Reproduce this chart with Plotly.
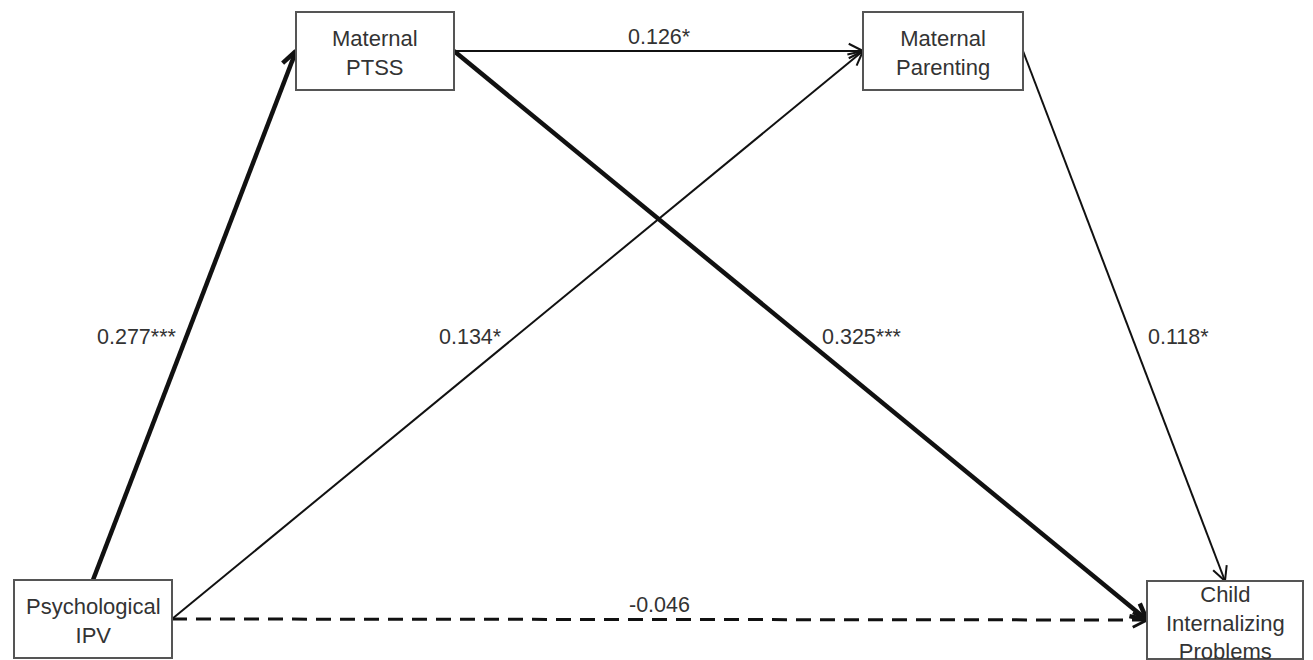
import math
import plotly.graph_objects as go

# ---- data ----
node_ids = ["IPV", "PTSS", "PAR", "CHILD"]
node_labels = ["Psychological<br>IPV", "Maternal<br>PTSS", "Maternal<br>Parenting",
               "Child<br>Internalizing<br>Problems"]
edge_from = ["IPV", "IPV", "IPV", "PTSS", "PTSS", "PAR"]
edge_to = ["PTSS", "PAR", "CHILD", "PAR", "CHILD", "CHILD"]
edge_coef = ["0.277***", "0.134*", "-0.046", "0.126*", "0.325***", "0.118*"]
edge_sig = [True, False, False, False, True, False]   # thick = p<.001
edge_dashed = [False, False, True, False, False, False]

# ---- layout (pixel-like coordinate system) ----
node_cx = {"IPV": 93, "PTSS": 375, "PAR": 943, "CHILD": 1225}
node_cy = {"IPV": 619, "PTSS": 51, "PAR": 51, "CHILD": 620}
node_hw = {"IPV": 79, "PTSS": 79, "PAR": 80, "CHILD": 78}
node_hh = 39
text_dy = {"IPV": 2, "PTSS": 2, "PAR": 1.5, "CHILD": 2.5}
edge_start_side = ["top", "right", "right", "right", "right", "right"]
edge_end_side = ["left", "left", "left", "left", "left", "top"]
label_xy = [(137, 337), (470, 337), (659, 605), (659, 37), (862, 337), (1178, 337)]


def anchor(n, side):
    cx, cy, hw = node_cx[n], node_cy[n], node_hw[n]
    if side == "top":
        return cx, cy - node_hh
    if side == "left":
        return cx - hw, cy
    if side == "right":
        return cx + hw, cy
    return cx, cy + node_hh


W, H = 1313, 660
fig = go.Figure()
FONT = "Liberation Sans, Arial, sans-serif"
TXT = "#333333"

shapes = []
annotations = []
for nid, lab in zip(node_ids, node_labels):
    cx, cy, hw = node_cx[nid], node_cy[nid], node_hw[nid]
    shapes.append(dict(type="rect", xref="x", yref="y",
                       x0=cx - hw, x1=cx + hw, y0=cy - node_hh, y1=cy + node_hh,
                       line=dict(color="#555555", width=2), fillcolor="white", layer="above"))
    annotations.append(dict(x=cx, y=cy + text_dy[nid], xref="x", yref="y", text=lab,
                            showarrow=False, font=dict(family=FONT, size=22, color=TXT),
                            xanchor="center", yanchor="middle", align="center"))

for i in range(len(edge_from)):
    x0, y0 = anchor(edge_from[i], edge_start_side[i])
    x1, y1 = anchor(edge_to[i], edge_end_side[i])
    w = 4.5 if edge_sig[i] else 2
    if edge_dashed[i]:
        w = 3
    fig.add_trace(go.Scatter(x=[x0, x1], y=[y0, y1], mode="lines",
                             line=dict(color="#111111", width=w,
                                       dash="15px,9px" if edge_dashed[i] else "solid"),
                             hoverinfo="skip", showlegend=False))
    # open V arrowhead
    ang = math.atan2(y1 - y0, x1 - x0)
    L = 18 if edge_sig[i] else 16
    th = math.radians(27)
    hx, hy = [], []
    for s in (1, -1):
        a = ang + math.pi + s * th
        hx += [x1 + L * math.cos(a), x1, None]
        hy += [y1 + L * math.sin(a), y1, None]
    fig.add_trace(go.Scatter(x=hx, y=hy, mode="lines",
                             line=dict(color="#111111", width=w if not edge_dashed[i] else 3),
                             hoverinfo="skip", showlegend=False))
    lx, ly = label_xy[i]
    annotations.append(dict(x=lx, y=ly, xref="x", yref="y", text=edge_coef[i],
                            showarrow=False, font=dict(family=FONT, size=21.5, color=TXT),
                            xanchor="center", yanchor="middle"))

fig.update_layout(
    width=W, height=H, autosize=False,
    margin=dict(l=0, r=0, t=0, b=0),
    paper_bgcolor="white", plot_bgcolor="white",
    xaxis=dict(range=[0, W], visible=False, fixedrange=True),
    yaxis=dict(range=[H, 0], visible=False, fixedrange=True),
    shapes=shapes, annotations=annotations, showlegend=False,
)
fig.write_html("out.html", config={"displayModeBar": False},
               post_script="document.body.style.margin='0';document.body.style.overflow='hidden';")
